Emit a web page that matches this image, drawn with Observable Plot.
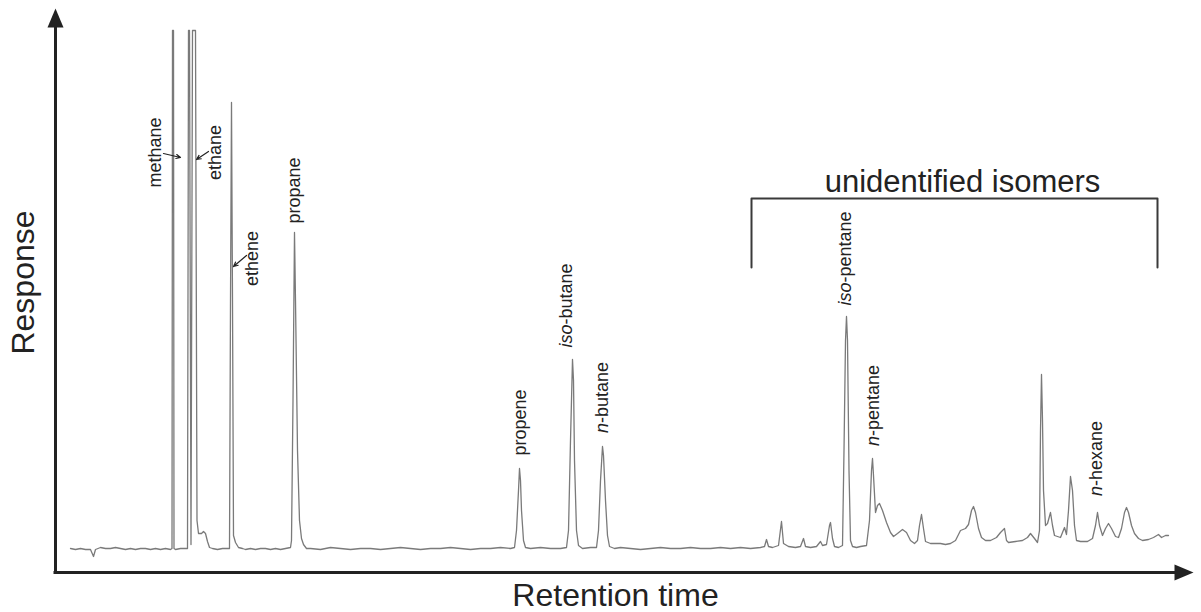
<!DOCTYPE html>
<html>
<head>
<meta charset="utf-8">
<script src="https://cdn.jsdelivr.net/npm/d3@7"></script>
<script src="https://cdn.jsdelivr.net/npm/@observablehq/plot@0.6"></script>
<style>
  html, body { margin: 0; padding: 0; background: #ffffff; }
  #chart { width: 1201px; height: 612px; }
</style>
</head>
<body>
<div id="chart"></div>
<script>
// Retention time (arbitrary units) and detector response (arbitrary units)
const time = [70,75,80,85,90,93,95,100,105,110,115,120,125,130,135,140,145,150,155,160,165,170,171.5,172,173,173.5,175,180,185,187,188,189,190.5,192,194,195,196.5,198,201,203,205,207,209,212,217,222,227,229,230,231,232,233,235,238,242,245,250,255,260,265,270,275,280,285,290,291,292.5,294,295,297,299,301,303,306,
310,320,330,340,350,360,370,380,390,400,410,420,430,440,450,460,470,480,490,500,510,514,516,518,519,520,521,523,525,530,540,550,560,566,568,570,572,573,574,576,578,582,590,596,598,600,602,603,605,607,609,614,620,630,640,650,660,670,680,690,700,710,720,730,740,750,760,764,766,768,772,778,781,783,788,795,800,803,805,810,816,820,822,826,829,830,832,834,838,842,843.5,845,846,847,848.5,850,852,856,860,866,869,871,872,873,875,877,879,882,886,890,893,897,902,906,910,914,917,919,921,923,925,930,935,940,945,950,955,960,965,968,971,973,975,978,981,985,990,996,1000,1004,1006,1008,1015,1022,1027,1030,1034,1037,1039,1040,1041,1042,1043,1045,1047,1050,1052,1054,1057,1060,1062,1064,1066,1068,1070,1072,1074,1076,1080,1087,1092,1095,1097,1099,1102,1105,1108,1111,1115,1118,1121,1124,1126,1128,1131,1134,1138,1142,1148,1153,1158,1161,1165,1168];
const response = [0,-1,0,-1,-1,-8,-1,1,0,0,1,0,-1,0,-1,0,0,-1,0,-1,0,-1,0,518,518,0,-1,0,0,0,518,518,4,518,518,518,28,15,15,17,15,7,1,0,-1,0,0,0,248,446,248,13,6,1,0,-1,0,-1,0,0,-1,0,-1,0,1,8,148,316,248,98,28,10,4,0,
0,-1,1,0,-1,0,0,-1,0,1,0,-1,0,0,1,0,-1,0,0,1,0,1,18,58,80,68,38,8,1,0,1,0,0,1,18,108,189,168,88,18,3,0,1,1,18,68,102,93,48,13,2,0,1,0,-1,0,1,0,0,1,0,0,1,0,1,0,1,2,9,2,1,3,27,5,2,1,2,10,2,1,2,7,3,4,23,26,10,2,1,3,98,208,232,208,78,8,2,1,2,3,28,78,90,73,36,43,45,38,26,16,12,15,19,16,8,5,8,23,34,20,7,5,5,5,4,5,8,18,20,24,38,42,36,20,11,8,8,11,16,20,8,6,7,8,11,15,10,6,18,118,174,128,58,23,25,36,23,13,12,11,16,21,14,38,72,58,23,8,7,7,10,23,36,23,13,20,25,20,12,11,20,36,41,36,23,15,10,8,9,11,14,11,13,13];

// Peak labels (retention time of label centre, response of label centre)
const labelText = ["methane","ethane","ethene","propane","propene","iso-butane","n-butane","iso-pentane","n-pentane","n-hexane"];
const labelTime = [155,215,252,294,520,566,602,845,873,1096];
const labelResp = [396,396,290,358,126,243,151,290,143,90];

// Pointer arrows for the crowded early peaks
const pointerFromTime = [163,208,246];
const pointerFromResp = [395,397,293];
const pointerToTime = [180,196,233];
const pointerToResp = [391,389,282];

// Bracket over the unidentified isomers
const bracketTime = [751,1157];
const bracketTopResp = 350;
const bracketFootResp = 281;
const bracketTitle = "unidentified isomers";

const xDomain = [55,1193];
const yDomain = [-24,540];

const trace = time.map((t,i) => ({t, r: response[i]}));
const labels = labelText.map((s,i) => ({s, t: labelTime[i], r: labelResp[i]}));
const pointers = pointerFromTime.map((t,i) => ({x1: t, y1: pointerFromResp[i], x2: pointerToTime[i], y2: pointerToResp[i]}));
const bracket = [
  {t: bracketTime[0], r: bracketFootResp},
  {t: bracketTime[0], r: bracketTopResp},
  {t: bracketTime[1], r: bracketTopResp},
  {t: bracketTime[1], r: bracketFootResp}
];

const arrowUp = {draw(ctx){ ctx.moveTo(0,0); ctx.lineTo(8,19); ctx.lineTo(-8,19); ctx.closePath(); }};
const arrowRight = {draw(ctx){ ctx.moveTo(0,0); ctx.lineTo(-19,-8); ctx.lineTo(-19,8); ctx.closePath(); }};

const ink = "#222";
const chart = Plot.plot({
  width: 1201,
  height: 612,
  marginLeft: 55,
  marginRight: 8,
  marginTop: 8,
  marginBottom: 40,
  x: {domain: xDomain, axis: null},
  y: {domain: yDomain, axis: null},
  style: {background: "#ffffff", fontFamily: "'Liberation Sans', Arial, sans-serif", color: ink},
  marks: [
    Plot.ruleX([xDomain[0]], {y1: yDomain[0], y2: yDomain[1] - 17, stroke: ink, strokeWidth: 3, strokeLinecap: "square"}),
    Plot.ruleY([yDomain[0]], {x1: xDomain[0], x2: xDomain[1] - 17, stroke: ink, strokeWidth: 3, strokeLinecap: "square"}),
    Plot.dot([{t: xDomain[0], r: yDomain[1]}], {x: "t", y: "r", symbol: arrowUp, r: 10, fill: ink, stroke: "none"}),
    Plot.dot([{t: xDomain[1], r: yDomain[0]}], {x: "t", y: "r", symbol: arrowRight, r: 10, fill: ink, stroke: "none"}),
    Plot.line(trace, {x: "t", y: "r", stroke: "#7a7a7a", strokeWidth: 1.3}),
    Plot.text(labels, {x: "t", y: "r", text: "s", rotate: -90, fontSize: 18, fill: ink}),
    Plot.arrow(pointers, {x1: "x1", y1: "y1", x2: "x2", y2: "y2", stroke: ink, strokeWidth: 1.2, headLength: 6, headAngle: 50}),
    Plot.line(bracket, {x: "t", y: "r", stroke: "#3a3a3a", strokeWidth: 2}),
    Plot.text([bracketTitle], {x: (bracketTime[0] + bracketTime[1]) / 2 + 8, y: bracketTopResp + 16, text: d => d, fontSize: 31, fill: ink}),
    Plot.text(["Response"], {x: 23, y: 266, text: d => d, rotate: -90, fontSize: 32, fill: ink}),
    Plot.text(["Retention time"], {x: 615, y: -47, text: d => d, fontSize: 32, fill: ink})
  ]
});

// italic prefixes (iso-, n-)
chart.querySelectorAll("text").forEach(el => {
  const m = /^(iso|n)(-.*)$/.exec(el.textContent);
  if (m && el.children.length === 0) {
    el.textContent = "";
    const a = document.createElementNS("http://www.w3.org/2000/svg", "tspan");
    a.setAttribute("font-style", "italic");
    a.textContent = m[1];
    const b = document.createElementNS("http://www.w3.org/2000/svg", "tspan");
    b.textContent = m[2];
    el.appendChild(a); el.appendChild(b);
  }
});
document.getElementById("chart").appendChild(chart);
</script>
</body>
</html>
